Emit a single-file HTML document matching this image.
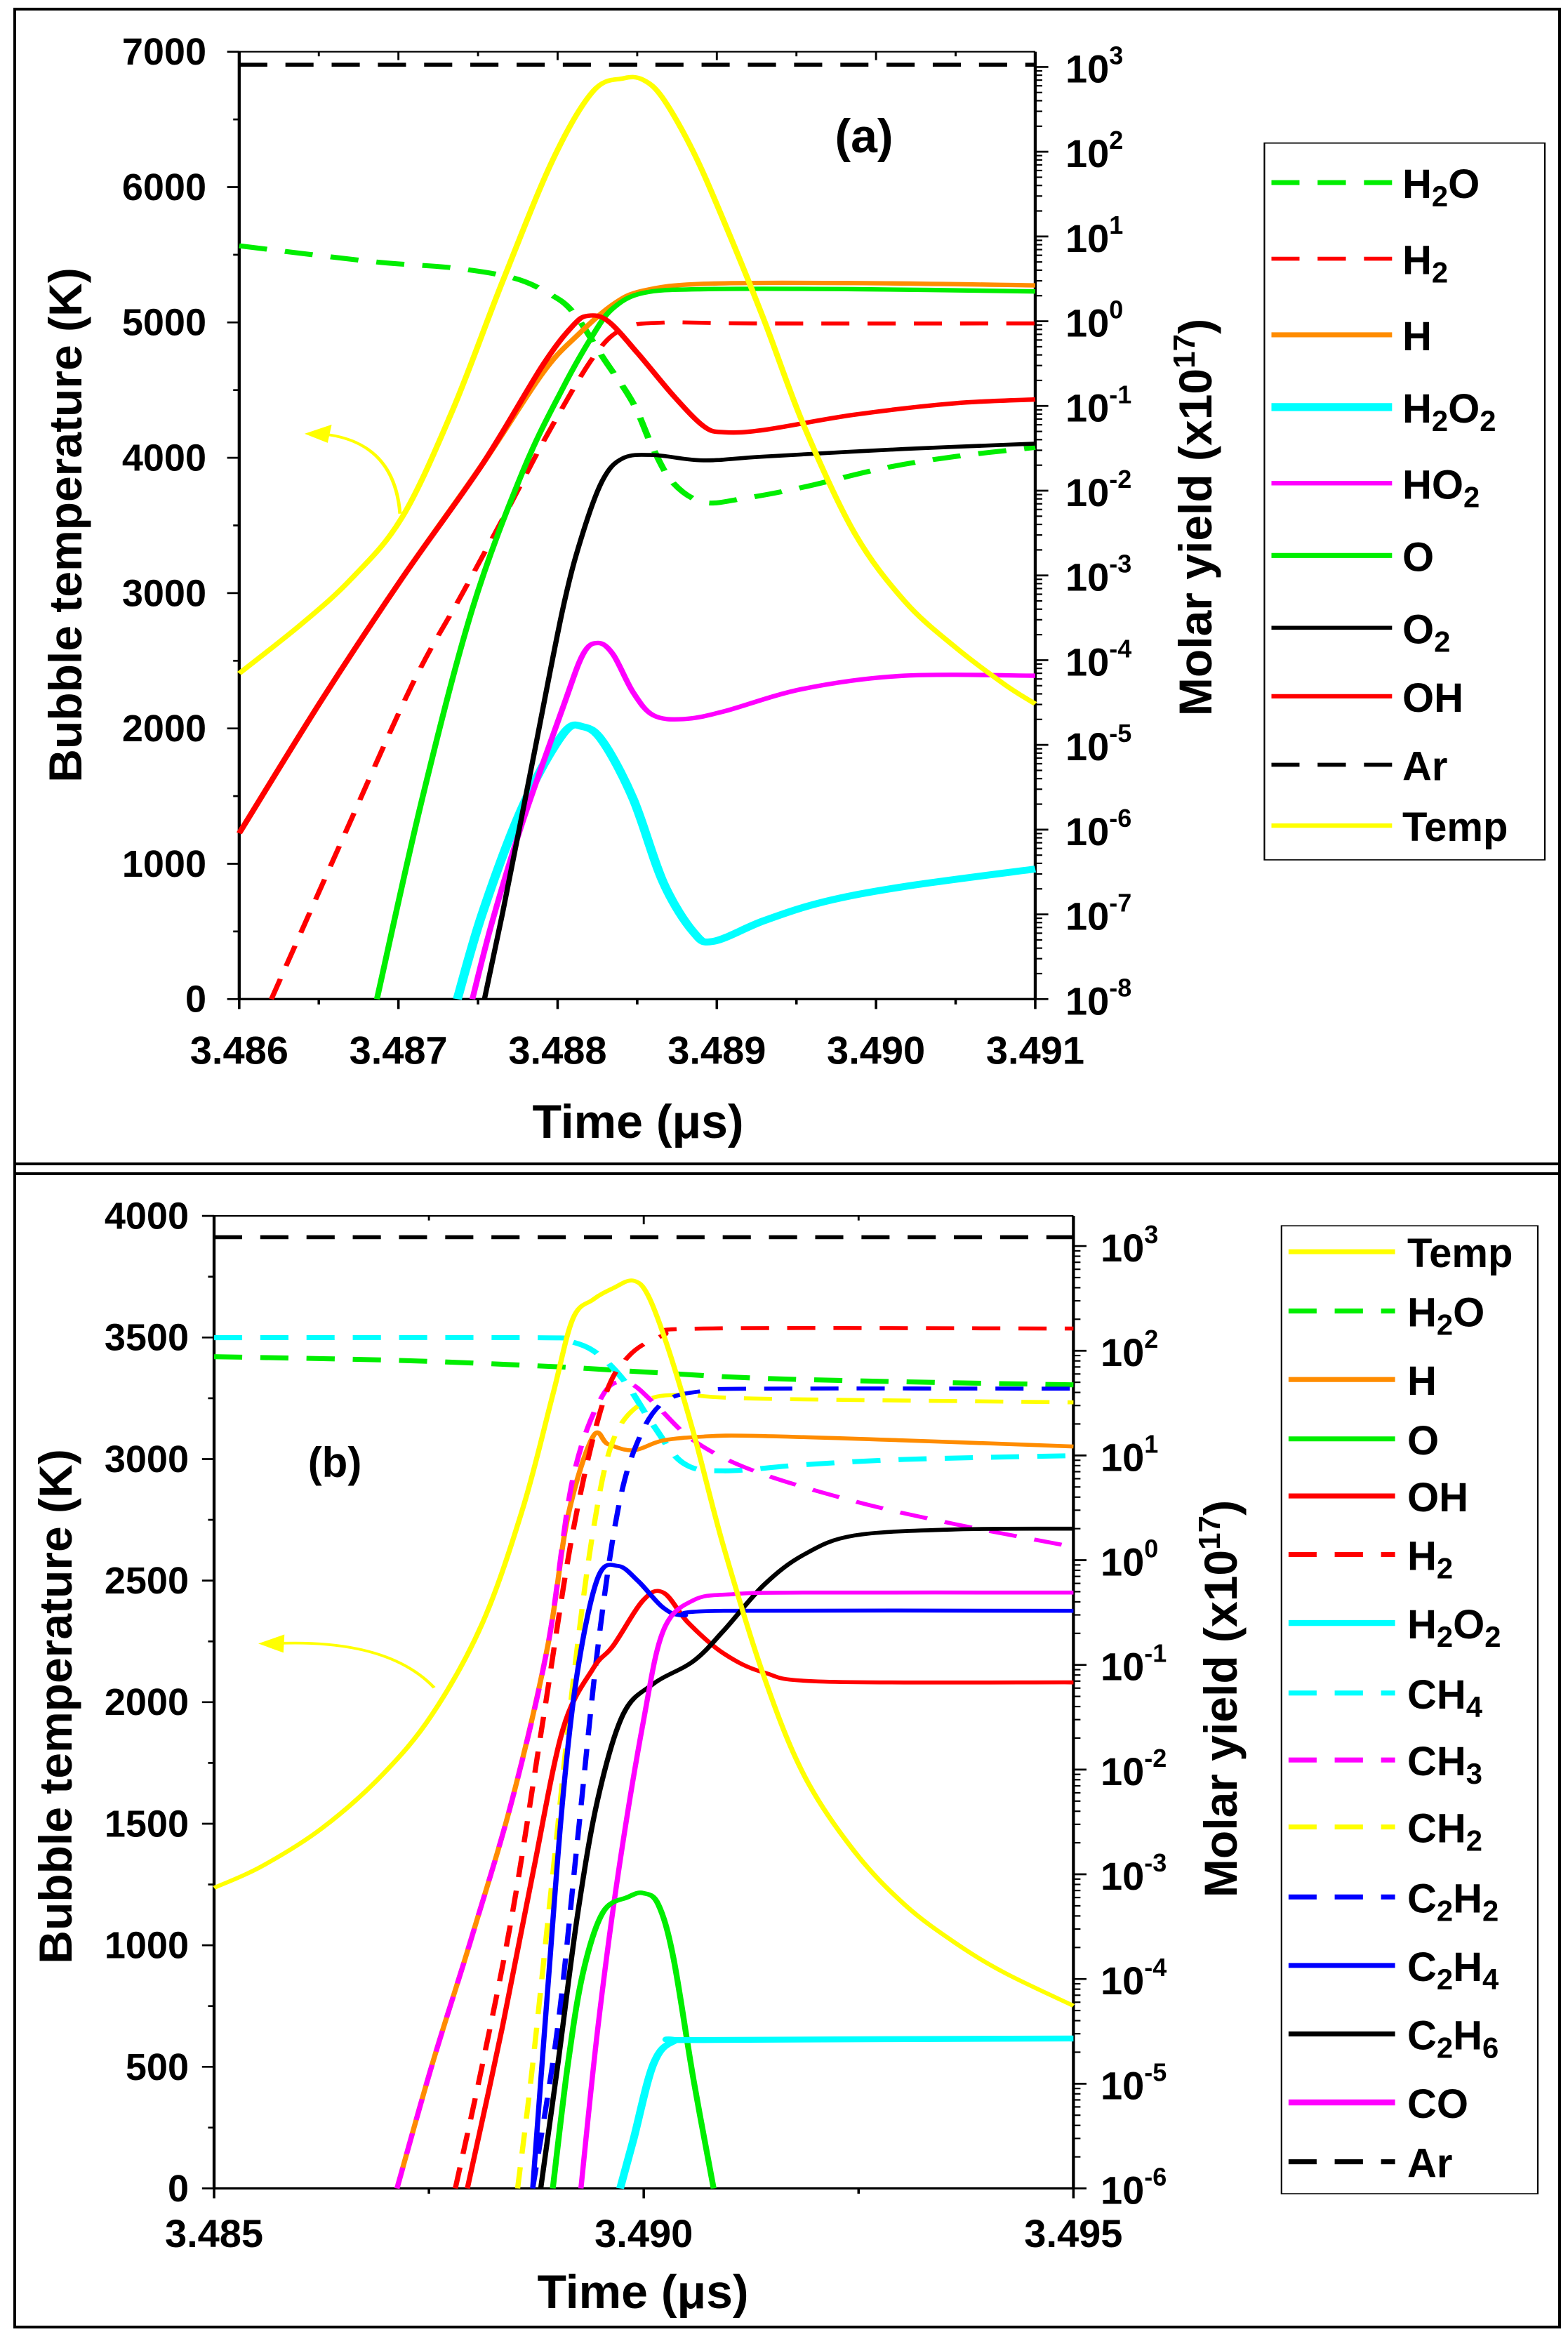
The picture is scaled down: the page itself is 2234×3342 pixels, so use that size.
<!DOCTYPE html>
<html><head><meta charset="utf-8">
<style>
html,body{margin:0;padding:0;background:#fff;}
svg{display:block;}
text{font-family:"Liberation Sans",Arial,sans-serif;font-weight:bold;fill:#000;}
</style></head>
<body>
<svg id="s" xmlns="http://www.w3.org/2000/svg" width="2234" height="3342" viewBox="0 0 2234 3342">
<rect x="0" y="0" width="2234" height="3342" fill="#fff"/>
<rect x="21" y="13" width="2201" height="3302" fill="none" stroke="#000" stroke-width="4"/>
<line x1="21" y1="1658" x2="2222" y2="1658" stroke="#000" stroke-width="4"/>
<line x1="21" y1="1672" x2="2222" y2="1672" stroke="#000" stroke-width="4"/>
<g id="ga" transform="scale(1.432,1.084)"></g>
<g id="gb" transform="translate(0,1640) scale(1.432,1.084)"></g>
<g id="tx"></g>
</svg>
<script>
var NS="http://www.w3.org/2000/svg";
function el(p,n,a){var e=document.createElementNS(NS,n);for(var k in a)e.setAttribute(k,a[k]);p.appendChild(e);return e;}
function cr(p){var d="M"+p[0][0]+","+p[0][1];for(var i=0;i<p.length-1;i++){var p0=p[i-1]||p[i],p1=p[i],p2=p[i+1],p3=p[i+2]||p2;
var c1x=p1[0]+(p2[0]-p0[0])/6,c1y=p1[1]+(p2[1]-p0[1])/6,c2x=p2[0]-(p3[0]-p1[0])/6,c2y=p2[1]-(p3[1]-p1[1])/6;
d+=" C"+c1x.toFixed(1)+","+c1y.toFixed(1)+" "+c2x.toFixed(1)+","+c2y.toFixed(1)+" "+p2[0]+","+p2[1];}return d;}
var SW=1.3;
function cur(g,p,c,w,dash){var a={d:cr(p),fill:"none",stroke:c,"stroke-width":(w||4)*SW,"stroke-linejoin":"round"};if(dash)a["stroke-dasharray"]=dash;el(g,"path",a);}
function ln(g,x1,y1,x2,y2,w){el(g,"line",{x1:x1,y1:y1,x2:x2,y2:y2,stroke:"#000","stroke-width":w||2.5});}
var T=document.getElementById("tx");
function txt(x,y,s,fs,anchor,extra){var e=el(T,"text",{x:x,y:y,"font-size":fs,"text-anchor":anchor||"start"});if(extra)for(var k in extra)e.setAttribute(k,extra[k]);e.innerHTML=s;return e;}
function sub(s){return s.replace(/_(\d)/g,'<tspan font-size="0.72em" dy="12">$1</tspan><tspan dy="-12">\u200b</tspan>');}
var DS="28 18";
var Y="#ffff00",G="#00ee00",R="#ff0000",O="#ff8c00",C="#00ffff",M="#ff00ff",K="#000",B="#0000ff";

/* ---------- Panel A ---------- */
(function(){
var g=document.getElementById("ga");
var L=238,Rr=1030,Tp=68,Bt=1313;
ln(g,L,Tp,L,Bt,3);ln(g,Rr,Tp,Rr,Bt,3);ln(g,L,Bt,Rr,Bt,3);ln(g,L,Tp,Rr,Tp,2);
for(var i=0;i<=14;i++){var y=Bt-i*177.857/2;ln(g,L,y,L-(i%2?6:12),y,2.5);}
for(var i=0;i<=10;i++){var x=L+i*79.2;ln(g,x,Bt,x,Bt+(i%2?7:13),2.5);ln(g,x,Tp,x,Tp+(i%2?6:11),2);}
var dec=111.36;
for(var d=-8;d<=3;d++){var y=Bt-(d+8)*dec;ln(g,Rr,y,Rr+13,y,2.5);
 if(d<3)for(var m=2;m<=9;m++){var yy=y-Math.log10(m)*dec;ln(g,Rr,yy,Rr+7,yy,2);}}
cur(g,[[238,85],[1030,85]],K,4,DS);
cur(g,[[238,323],[300,333],[380,345],[450,352],[510,365],[545,385],[570,410],[600,470],[630,530],[650,590],[670,635],[700,660],[740,655],[800,640],[880,615],[950,600],[1030,588]],G,5,DS);
cur(g,[[270,1313],[340,1105],[410,900],[460,780],[505,670],[545,570],[590,470],[620,432],[660,424],[750,425],[1030,425]],R,4,DS);
cur(g,[[238,1095],[320,920],[400,760],[480,610],[540,490],[575,440],[610,400],[640,382],[700,373],[850,372],[1030,375]],O,4.5);
cur(g,[[455,1313],[480,1200],[520,1060],[560,965],[580,955],[600,975],[630,1050],[660,1160],[690,1225],[710,1237],[760,1210],[820,1185],[900,1165],[1030,1142]],C,7);
cur(g,[[470,1313],[490,1210],[520,1080],[560,930],[580,860],[595,845],[610,860],[630,910],[650,940],[680,945],[720,935],[800,905],[900,888],[1030,888]],M,4.5);
cur(g,[[375,1313],[420,1050],[470,800],[520,620],[560,510],[590,440],[610,405],[640,385],[700,380],[850,380],[1030,383]],G,4.5);
cur(g,[[482,1313],[500,1200],[530,1000],[560,800],[580,700],[600,630],[620,602],[650,598],[700,605],[760,600],[900,590],[1030,583]],K,4);
cur(g,[[238,1095],[320,920],[400,760],[480,610],[540,480],[570,428],[585,415],[605,422],[635,465],[670,520],[700,560],[720,568],[760,565],[850,545],[950,530],[1030,525]],R,4.5);
cur(g,[[238,885],[300,820],[350,760],[400,680],[450,540],[500,370],[550,210],[590,120],[620,103],[640,105],[660,130],[690,200],[720,290],[760,420],[800,560],[850,700],[900,790],[950,850],[1000,900],[1030,925]],Y,4.5);
el(g,"path",{d:"M398,675 Q392,578 318,570",fill:"none",stroke:Y,"stroke-width":3.5});
el(g,"path",{d:"M303,570 L330,558 L326,582 Z",fill:Y});
el(g,"rect",{x:1258,y:188,width:279,height:942,fill:"#fff",stroke:"#000","stroke-width":1.5});
var ly=[240,340,440,535,635,730,825,915,1005,1085];
var ls=[[G,DS,5],[R,DS,4],[O,0,5],[C,0,8],[M,0,4.5],[G,0,5],[K,0,4],[R,0,4.5],[K,DS,4],[Y,0,4.5]];
for(var i=0;i<10;i++)cur(g,[[1265,ly[i]],[1385,ly[i]]],ls[i][0],ls[i][2],ls[i][1]||null);
var names=["H_2O","H_2","H","H_2O_2","HO_2","O","O_2","OH","Ar","Temp"];
for(var i=0;i<10;i++){var e=txt(1998,ly[i]*1.084+22,sub(names[i]),58,"start");if(i==9)e.setAttribute("font-weight","normal");}
for(var v=0;v<=7000;v+=1000){txt(294,(Bt-v*0.177857+17)*1.084,String(v),54,"end");}
var xl=["3.486","3.487","3.488","3.489","3.490","3.491"];
for(var i=0;i<6;i++)txt((L+i*158.4)*1.432,1398*1.084,xl[i],56,"middle");
for(var d=-8;d<=3;d++){var y=(Bt-(d+8)*dec)*1.084;txt(1518,y+22,'10<tspan font-size="36" dy="-26">'+d+'</tspan>',56,"start");}
txt(909,1621,'Time (\u03bcs)',68,"middle");
txt(0,0,'Bubble temperature (K)',66,"middle",{transform:"translate(116,748) rotate(-90)"});
txt(0,0,'Molar yield (x10<tspan font-size="44" dy="-24">17</tspan><tspan dy="24">)</tspan>',66,"middle",{transform:"translate(1726,737) rotate(-90)"});
txt(1231,217,'(a)',68,"middle");
})();

/* ---------- Panel B ---------- */
(function(){
var g=document.getElementById("gb");
var L=213,Rr=1068,Tp=85,Bt=1363,OY=1640;
ln(g,L,Tp,L,Bt,3);ln(g,Rr,Tp,Rr,Bt,3);ln(g,L,Bt,Rr,Bt,3);ln(g,L,Tp,Rr,Tp,2);
for(var i=0;i<=16;i++){var y=Bt-i*159.75/2;ln(g,L,y,L-(i%2?6:12),y,2.5);}
for(var i=0;i<=4;i++){var x=L+i*213.75;ln(g,x,Bt,x,Bt+(i%2?7:13),2.5);ln(g,x,Tp,x,Tp+(i%2?6:11),2);}
var dec=137.6;
for(var d=-6;d<=3;d++){var y=Bt-(d+6)*dec;ln(g,Rr,y,Rr+13,y,2.5);
 if(d<3)for(var m=2;m<=9;m++){var yy=y-Math.log10(m)*dec;ln(g,Rr,yy,Rr+7,yy,2);}}
cur(g,[[213,113],[1068,113]],K,4,DS);
cur(g,[[213,270],[400,275],[550,283],[640,290],[750,298],[900,303],[1068,307]],G,5,DS);
cur(g,[[213,245],[530,245],[560,248],[590,262],[620,300],[650,360],[680,410],[720,420],[800,412],[900,405],[1068,400]],C,5,DS);
cur(g,[[395,1363],[430,1200],[470,1030],[510,850],[545,650],[565,480],[590,375],[605,385],[630,393],[660,380],[700,375],[750,374],[900,380],[1068,388]],O,4);
cur(g,[[395,1363],[430,1200],[470,1030],[510,850],[545,650],[570,430],[600,320],[625,305],[650,330],[690,380],[750,420],[850,460],[950,490],[1068,520]],M,4,DS);
cur(g,[[453,1363],[480,1200],[510,1000],[540,750],[570,500],[600,330],[625,270],[660,242],[700,233],[1068,233]],R,4,DS);
cur(g,[[515,1363],[530,1200],[550,950],[570,700],[590,500],[610,380],[640,330],[680,320],[750,325],[1068,330]],Y,4,DS);
cur(g,[[530,1363],[555,1150],[575,900],[595,650],[615,470],[635,380],[660,330],[700,315],[760,312],[1068,312]],B,4,DS);
cur(g,[[465,1363],[500,1150],[530,950],[560,760],[590,680],[610,650],[640,590],[660,580],[685,620],[720,660],[760,685],[820,697],[1068,698]],R,4);
cur(g,[[530,1363],[545,1100],[560,850],[575,680],[595,560],[615,545],[635,565],[660,600],[680,610],[720,604],[1068,604]],B,4);
cur(g,[[538,1363],[555,1200],[575,1000],[595,850],[620,740],[650,700],[690,670],[720,630],[760,570],[800,530],[850,505],[950,497],[1068,496]],K,4);
cur(g,[[578,1363],[595,1150],[615,950],[640,750],[660,630],[690,590],[730,582],[800,580],[1068,580]],M,4);
cur(g,[[550,1363],[565,1200],[580,1080],[600,1000],[625,980],[640,975],[655,990],[670,1060],[690,1220],[710,1363]],G,4.5);
cur(g,[[617,1363],[630,1300],[650,1200],[670,1170],[700,1168],[1068,1166]],C,6);
cur(g,[[213,968],[260,940],[320,890],[380,820],[430,740],[480,620],[520,470],[550,320],[570,220],[590,195],[610,180],[630,170],[645,190],[665,260],[690,370],[720,520],[760,690],[800,820],[850,920],[900,990],[950,1040],[1000,1080],[1068,1123]],Y,4);
el(g,"path",{d:"M432,705 Q385,640 272,647",fill:"none",stroke:Y,"stroke-width":3.5});
el(g,"path",{d:"M257,647 L283,635 L282,659 Z",fill:Y});
el(g,"rect",{x:1275,y:98,width:255,height:1272,fill:"#fff",stroke:"#000","stroke-width":1.5});
var ly=[132,210,300,378,453,530,620,712,800,888,980,1070,1160,1250,1328];
var ls=[[Y,0],[G,DS],[O,0],[G,0],[R,0],[R,DS],[C,0],[C,DS],[M,DS],[Y,DS],[B,DS],[B,0],[K,0],[M,0],[K,DS]];
for(var i=0;i<15;i++)cur(g,[[1282,ly[i]],[1388,ly[i]]],ls[i][0],(i==6||i==13)?6:5,ls[i][1]||null);
var names=["Temp","H_2O","H","O","OH","H_2","H_2O_2","CH_4","CH_3","CH_2","C_2H_2","C_2H_4","C_2H_6","CO","Ar"];
for(var i=0;i<15;i++)txt(2005,OY+ly[i]*1.084+22,sub(names[i]),58,"start");
for(var v=0;v<=4000;v+=500){txt(269,OY+(Bt-v*0.3195+17)*1.084,String(v),54,"end");}
var xl=["3.485","3.490","3.495"];
for(var i=0;i<3;i++)txt((L+i*427.5)*1.432,OY+1440*1.084,xl[i],56,"middle");
for(var d=-6;d<=3;d++){var y=OY+(Bt-(d+6)*dec)*1.084;txt(1568,y+22,'10<tspan font-size="36" dy="-26">'+d+'</tspan>',56,"start");}
txt(916,3288,'Time (\u03bcs)',68,"middle");
txt(0,0,'Bubble temperature (K)',66,"middle",{transform:"translate(102,2431) rotate(-90)"});
txt(0,0,'Molar yield (x10<tspan font-size="44" dy="-24">17</tspan><tspan dy="24">)</tspan>',66,"middle",{transform:"translate(1762,2420) rotate(-90)"});
txt(477,2104,'(b)',60,"middle");
})();
</script>
</body></html>
